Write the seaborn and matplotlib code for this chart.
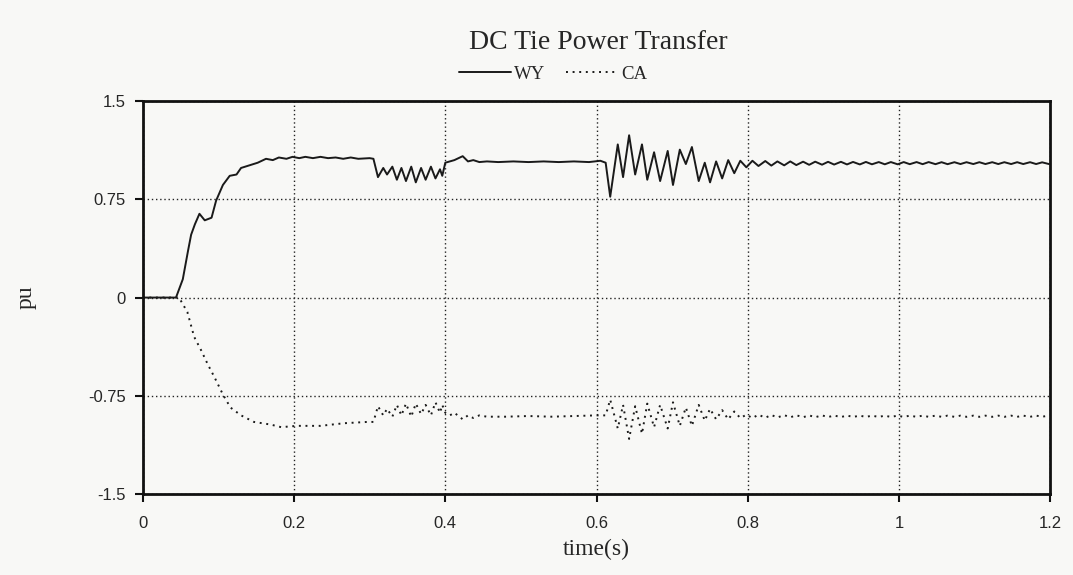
#%%
# DC tie power transfer - WY / CA response
import pandas as pd
import numpy as np
import matplotlib.pyplot as plt
import seaborn as sns

# --- values ---
wy_t = [0.0, 0.044, 0.053, 0.060, 0.064, 0.069, 0.075, 0.082, 0.091, 0.097,
        0.106, 0.115, 0.124, 0.130, 0.141, 0.152, 0.163, 0.172, 0.180, 0.190,
        0.198, 0.207, 0.215, 0.225, 0.235, 0.245, 0.255, 0.265, 0.275, 0.285,
        0.300, 0.305, 0.311, 0.318, 0.323, 0.330, 0.336, 0.342, 0.348, 0.355,
        0.361, 0.368, 0.374, 0.381, 0.387, 0.393, 0.396, 0.400, 0.406, 0.412,
        0.423, 0.430, 0.437, 0.445, 0.455, 0.470, 0.490, 0.510, 0.530, 0.550,
        0.570, 0.590, 0.605, 0.612,
        0.618, 0.628, 0.635, 0.643, 0.651, 0.660, 0.667, 0.676, 0.684, 0.694,
        0.701, 0.710, 0.718, 0.726, 0.735, 0.743, 0.750, 0.758, 0.766, 0.774,
        0.782, 0.790,
        0.798, 0.806, 0.814, 0.823, 0.831, 0.839, 0.848, 0.856, 0.864, 0.873,
        0.881, 0.889, 0.898, 0.906, 0.914, 0.923, 0.931, 0.939, 0.948, 0.956,
        0.964, 0.973, 0.981, 0.989, 0.998, 1.006, 1.014, 1.023, 1.031, 1.039,
        1.048, 1.056, 1.064, 1.073, 1.081, 1.089, 1.098, 1.106, 1.114, 1.123,
        1.131, 1.139, 1.148, 1.156, 1.164, 1.173, 1.181, 1.189, 1.198]
wy_v = [0.0, 0.0, 0.14, 0.36, 0.48, 0.56, 0.64, 0.59, 0.61, 0.74,
        0.86, 0.93, 0.94, 0.99, 1.01, 1.03, 1.06, 1.05, 1.07, 1.06,
        1.075, 1.065, 1.075, 1.065, 1.075, 1.065, 1.07, 1.06, 1.07, 1.06,
        1.065, 1.06, 0.92, 0.99, 0.94, 1.00, 0.90, 0.99, 0.89, 1.00,
        0.88, 0.99, 0.90, 1.00, 0.91, 0.98, 0.93, 1.03, 1.04, 1.05,
        1.08, 1.04, 1.05, 1.035, 1.04, 1.035, 1.04, 1.035, 1.04, 1.035,
        1.04, 1.035, 1.045, 1.03,
        0.77, 1.17, 0.92, 1.24, 0.94, 1.17, 0.90, 1.11, 0.89, 1.12,
        0.86, 1.13, 1.02, 1.15, 0.89, 1.03, 0.88, 1.04, 0.91, 1.05,
        0.95, 1.045,
        0.995, 1.045, 1.005, 1.043, 1.008, 1.04, 1.01, 1.04, 1.012, 1.038,
        1.014, 1.038, 1.015, 1.037, 1.016, 1.037, 1.017, 1.036, 1.017, 1.036,
        1.018, 1.035, 1.018, 1.035, 1.018, 1.035, 1.019, 1.035, 1.019, 1.035,
        1.019, 1.034, 1.019, 1.034, 1.02, 1.034, 1.02, 1.034, 1.02, 1.034,
        1.02, 1.034, 1.02, 1.034, 1.02, 1.034, 1.02, 1.033, 1.02]

ca_t = [0.0, 0.048, 0.059, 0.068, 0.077, 0.086, 0.095, 0.106, 0.116, 0.130,
        0.147, 0.169, 0.183, 0.204, 0.235, 0.266, 0.297, 0.305,
        0.311, 0.318, 0.323, 0.330, 0.336, 0.342, 0.348, 0.355, 0.361, 0.368,
        0.374, 0.381, 0.387, 0.393, 0.396, 0.400, 0.406, 0.412, 0.423, 0.430,
        0.437, 0.445, 0.455, 0.480, 0.510, 0.540, 0.570, 0.600, 0.612,
        0.618, 0.628, 0.635, 0.643, 0.651, 0.660, 0.667, 0.676, 0.684, 0.694,
        0.701, 0.710, 0.718, 0.726, 0.735, 0.743, 0.750, 0.758, 0.766, 0.774,
        0.782, 0.790,
        0.798, 0.806, 0.814, 0.823, 0.831, 0.839, 0.848, 0.856, 0.864, 0.873,
        0.881, 0.889, 0.898, 0.906, 0.914, 0.923, 0.931, 0.939, 0.948, 0.956,
        0.964, 0.973, 0.981, 0.989, 0.998, 1.006, 1.014, 1.023, 1.031, 1.039,
        1.048, 1.056, 1.064, 1.073, 1.081, 1.089, 1.098, 1.106, 1.114, 1.123,
        1.131, 1.139, 1.148, 1.156, 1.164, 1.173, 1.181, 1.189, 1.198]
ca_v = [0.0, 0.0, -0.11, -0.30, -0.40, -0.51, -0.61, -0.74, -0.84, -0.90,
        -0.95, -0.97, -0.99, -0.98, -0.98, -0.96, -0.95, -0.95,
        -0.83, -0.90, -0.85, -0.91, -0.82, -0.90, -0.81, -0.91, -0.81, -0.89,
        -0.82, -0.90, -0.80, -0.88, -0.82, -0.88, -0.90, -0.88, -0.93, -0.90,
        -0.92, -0.90, -0.91, -0.91, -0.905, -0.91, -0.905, -0.90, -0.90,
        -0.78, -1.00, -0.82, -1.08, -0.83, -1.04, -0.81, -0.99, -0.82, -1.00,
        -0.80, -0.98, -0.84, -0.98, -0.82, -0.94, -0.85, -0.93, -0.86, -0.93,
        -0.87, -0.92,
        -0.895, -0.92, -0.895, -0.918, -0.897, -0.916, -0.898, -0.915, -0.899, -0.914,
        -0.9, -0.914, -0.9, -0.913, -0.901, -0.913, -0.901, -0.912, -0.902, -0.912,
        -0.902, -0.912, -0.902, -0.912, -0.902, -0.912, -0.902, -0.911, -0.902, -0.911,
        -0.902, -0.911, -0.902, -0.911, -0.902, -0.911, -0.902, -0.911, -0.902, -0.911,
        -0.902, -0.911, -0.902, -0.911, -0.902, -0.911, -0.902, -0.91, -0.902]

x_ticks = [0, 0.2, 0.4, 0.6, 0.8, 1.0, 1.2]
x_labels = ['0', '0.2', '0.4', '0.6', '0.8', '1', '1.2']
y_ticks = [-1.5, -0.75, 0, 0.75, 1.5]
y_labels = ['-1.5', '-0.75', '0', '0.75', '1.5']

# --- build long frame ---
df = pd.concat([pd.DataFrame({'time': wy_t, 'pu': wy_v, 'tie': 'WY'}),
                pd.DataFrame({'time': ca_t, 'pu': ca_v, 'tie': 'CA'})]).reset_index(drop = True)

sns.set_theme(style = 'ticks')
plt.rcParams['font.family'] = ['Liberation Serif', 'DejaVu Serif']

fig = plt.figure(figsize = (10.73, 5.75), dpi = 100, facecolor = '#f8f8f6')
ax = fig.add_axes([0.133, 0.141, 0.846, 0.683])
ax.set_facecolor('#f8f8f6')

sns.lineplot(ax = ax, data = df, x = 'time', y = 'pu', hue = 'tie', style = 'tie',
             palette = {'WY': '#1a1a1a', 'CA': '#1a1a1a'},
             dashes = {'WY': '', 'CA': (1, 2.4)},
             estimator = None, sort = False, linewidth = 1.4, legend = False)

ax.set_xlim(0, 1.2)
ax.set_ylim(-1.5, 1.5)
ax.set_xticks(x_ticks)
ax.set_xticklabels(x_labels, family = 'Liberation Sans', fontsize = 12)
ax.set_yticks(y_ticks)
ax.set_yticklabels(y_labels, family = 'Liberation Sans', fontsize = 12)
ax.tick_params(direction = 'out', length = 6, width = 1.5, color = '#111111', pad = 6)
ax.tick_params(axis = 'x', pad = 10)
ax.grid(True, linestyle = (0, (1, 2)), color = '#222222', linewidth = 1.0)

for side in ax.spines.values():
    side.set_visible(True)
    side.set_linewidth(2.0)
    side.set_color('#111111')

ax.set_xlabel('time(s)', fontsize = 17)
ax.xaxis.set_label_coords(0.5, -0.115)
ax.set_ylabel('pu', fontsize = 17)
ax.yaxis.set_label_coords(-0.117, 0.5)
fig.text(0.558, 0.926, 'DC Tie Power Transfer', fontsize = 20, ha = 'center', va = 'center')

ax.legend(handles = ax.lines[:2], labels = ['WY', 'CA'], ncol = 2, frameon = False,
          loc = 'center', bbox_to_anchor = (0.452, 1.068), fontsize = 13.5,
          handlelength = 2.8, handletextpad = 0.15, columnspacing = 1.1)

fig.savefig('out.png', dpi = 100, facecolor = fig.get_facecolor())
plt.close()
